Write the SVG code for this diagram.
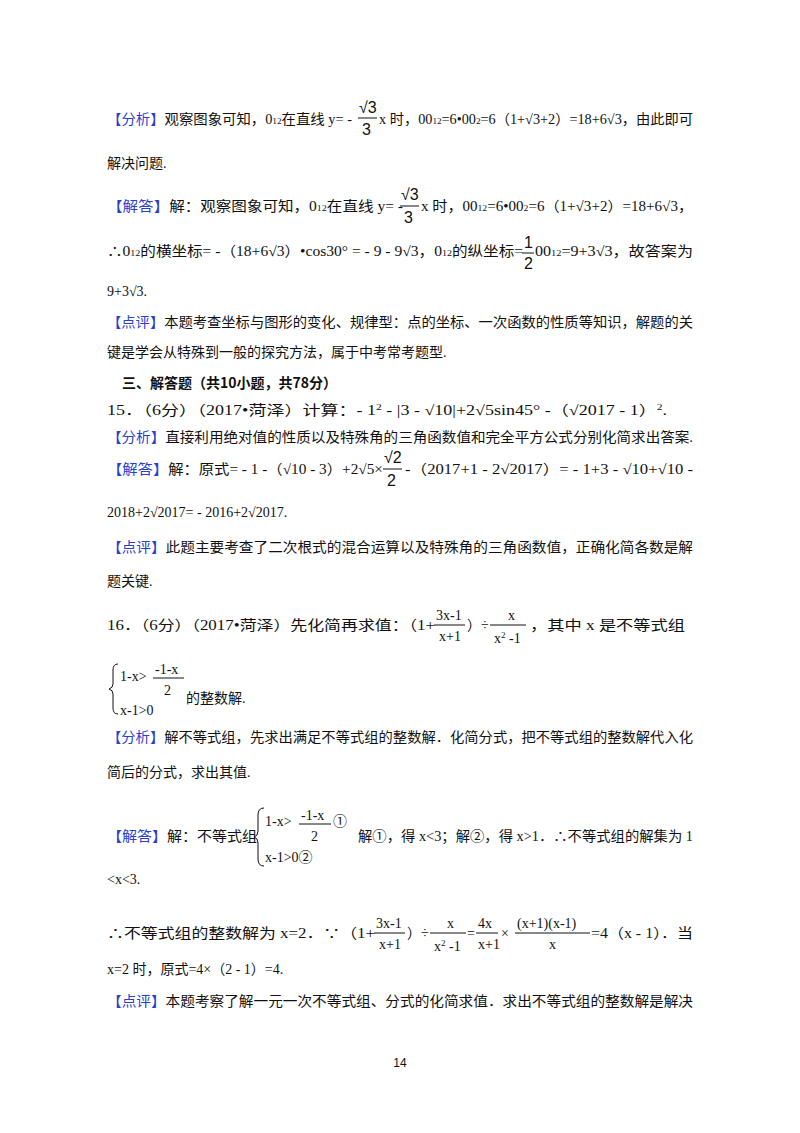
<svg xmlns="http://www.w3.org/2000/svg" width="800" height="1133" viewBox="0 0 800 1133">
<style>
text{font-family:"Liberation Serif","Noto Sans CJK SC",serif;font-size:14px;fill:#111}
.b{fill:#2a3fd0}
.m{font-family:"Liberation Sans","Noto Sans CJK SC",sans-serif;font-size:16px}
.s{font-size:9px}
.h{font-weight:bold;font-family:"Noto Sans CJK SC",serif}
line{stroke:#111;stroke-width:1}
.pg{font-family:"Liberation Sans",sans-serif;font-size:12px}
</style>
<rect width="800" height="1133" fill="#fff"/>
<g id="p1">
<text x="107" y="124" textLength="245" lengthAdjust="spacingAndGlyphs"><tspan class="b">【分析】</tspan>观察图象可知，0<tspan class="s">12</tspan>在直线 y= -</text>
<text class="m" x="359" y="113">√3</text><line x1="358" y1="118" x2="377" y2="118"/><text class="m" x="362" y="135">3</text>
<text x="379" y="124" textLength="314" lengthAdjust="spacingAndGlyphs">x 时，00<tspan class="s">12</tspan>=6•00<tspan class="s">2</tspan>=6（1+√3+2）=18+6√3，由此即可</text>
<text x="107" y="168">解决问题.</text>
<text x="107" y="211" textLength="296" lengthAdjust="spacingAndGlyphs"><tspan class="b">【解答】</tspan>解：观察图象可知，0<tspan class="s">12</tspan>在直线 y= -</text>
<text class="m" x="401" y="200">√3</text><line x1="400" y1="206" x2="419" y2="206"/><text class="m" x="404" y="223">3</text>
<text x="421" y="211" textLength="272" lengthAdjust="spacingAndGlyphs">x 时，00<tspan class="s">12</tspan>=6•00<tspan class="s">2</tspan>=6（1+√3+2）=18+6√3，</text>
<text x="107" y="256" textLength="416" lengthAdjust="spacingAndGlyphs">∴0<tspan class="s">12</tspan>的横坐标= -（18+6√3）•cos30° = - 9 - 9√3，0<tspan class="s">12</tspan>的纵坐标=</text>
<text class="m" x="524" y="248">1</text><line x1="522" y1="253" x2="534" y2="253"/><text class="m" x="524" y="269">2</text>
<text x="535" y="256" textLength="158" lengthAdjust="spacingAndGlyphs">00<tspan class="s">12</tspan>=9+3√3，故答案为</text>
<text x="107" y="296">9+3√3.</text>
<text x="107" y="327" textLength="586" lengthAdjust="spacingAndGlyphs"><tspan class="b">【点评】</tspan>本题考查坐标与图形的变化、规律型：点的坐标、一次函数的性质等知识，解题的关</text>
<text x="107" y="357">键是学会从特殊到一般的探究方法，属于中考常考题型.</text>
</g>
<g id="p2">
<text class="h" x="122" y="388">三、解答题（共10小题，共78分）</text>
<text x="107" y="415" textLength="560" lengthAdjust="spacingAndGlyphs">15．（6分）（2017•菏泽）计算：- 1<tspan class="s" dy="-5">2</tspan><tspan dy="5"> - |3 - √10|+2√5sin45° -（√2017 - 1）</tspan><tspan class="s" dy="-5">2</tspan><tspan dy="5">.</tspan></text>
<text x="107" y="442" textLength="586" lengthAdjust="spacingAndGlyphs"><tspan class="b">【分析】</tspan>直接利用绝对值的性质以及特殊角的三角函数值和完全平方公式分别化简求出答案.</text>
<text x="107" y="474" textLength="276" lengthAdjust="spacingAndGlyphs"><tspan class="b">【解答】</tspan>解：原式= - 1 -（√10 - 3）+2√5×</text>
<text class="m" x="384" y="463">√2</text><line x1="383" y1="469" x2="402" y2="469"/><text class="m" x="387" y="486">2</text>
<text x="405" y="474" textLength="288" lengthAdjust="spacingAndGlyphs">-（2017+1 - 2√2017）= - 1+3 - √10+√10 -</text>
<text x="107" y="517">2018+2√2017= - 2016+2√2017.</text>
<text x="107" y="552" textLength="586" lengthAdjust="spacingAndGlyphs"><tspan class="b">【点评】</tspan>此题主要考查了二次根式的混合运算以及特殊角的三角函数值，正确化简各数是解</text>
<text x="107" y="586">题关键.</text>
</g>
<g id="p3">
<text x="107" y="630" textLength="328" lengthAdjust="spacingAndGlyphs">16．（6分）（2017•菏泽）先化简再求值：（1+</text>
<text x="436" y="620">3x-1</text><line x1="434" y1="625" x2="465" y2="625"/><text x="439" y="641">x+1</text>
<text x="467" y="630">）÷</text>
<text x="508" y="620">x</text><line x1="490" y1="625" x2="526" y2="625"/><text x="494" y="643">x<tspan class="s" dy="-5">2</tspan><tspan dy="5"> -1</tspan></text>
<text x="530" y="630" textLength="155" lengthAdjust="spacingAndGlyphs">，其中 x 是不等式组</text>
<path d="M118,664 q-5,0 -5,6 v14 q0,4 -4,5 q4,1 4,5 v14 q0,6 5,6" fill="none" stroke="#111"/>
<text x="120" y="681">1-x&gt;</text>
<text x="155" y="674">-1-x</text><line x1="153" y1="678" x2="184" y2="678"/><text x="164" y="695">2</text>
<text x="120" y="715">x-1&gt;0</text>
<text x="186" y="703">的整数解.</text>
<text x="107" y="742" textLength="586" lengthAdjust="spacingAndGlyphs"><tspan class="b">【分析】</tspan>解不等式组，先求出满足不等式组的整数解．化简分式，把不等式组的整数解代入化</text>
<text x="107" y="777">简后的分式，求出其值.</text>
<text x="107" y="841" textLength="150" lengthAdjust="spacingAndGlyphs"><tspan class="b">【解答】</tspan>解：不等式组</text>
<path d="M264,808 q-6,0 -6,7 v16 q0,5 -4,6 q4,1 4,6 v16 q0,7 6,7" fill="none" stroke="#111"/>
<text x="265" y="826">1-x&gt;</text>
<text x="301" y="820">-1-x</text><line x1="299" y1="824" x2="331" y2="824"/><text x="311" y="841">2</text><text x="333" y="826">①</text>
<text x="265" y="862">x-1&gt;0②</text>
<text x="358" y="841" textLength="335" lengthAdjust="spacingAndGlyphs">解①，得 x&lt;3；解②，得 x&gt;1．∴不等式组的解集为 1</text>
<text x="107" y="884">&lt;x&lt;3.</text>
<text x="107" y="938" textLength="268" lengthAdjust="spacingAndGlyphs">∴不等式组的整数解为 x=2．∵（1+</text>
<text x="376" y="928">3x-1</text><line x1="374" y1="933" x2="405" y2="933"/><text x="379" y="949">x+1</text>
<text x="407" y="938">）÷</text>
<text x="447" y="928">x</text><line x1="430" y1="933" x2="466" y2="933"/><text x="434" y="951">x<tspan class="s" dy="-5">2</tspan><tspan dy="5"> -1</tspan></text>
<text x="467" y="938">=</text>
<text x="478" y="928">4x</text><line x1="476" y1="933" x2="498" y2="933"/><text x="478" y="949">x+1</text>
<text x="501" y="938">×</text>
<text x="517" y="928">(x+1)(x-1)</text><line x1="515" y1="933" x2="590" y2="933"/><text x="549" y="949">x</text>
<text x="591" y="938" textLength="102" lengthAdjust="spacingAndGlyphs">=4（x - 1）．当</text>
<text x="107" y="974">x=2 时，原式=4×（2 - 1）=4.</text>
<text x="107" y="1006" textLength="586" lengthAdjust="spacingAndGlyphs"><tspan class="b">【点评】</tspan>本题考察了解一元一次不等式组、分式的化简求值．求出不等式组的整数解是解决</text>
<text class="pg" x="400" y="1067" text-anchor="middle">14</text>
</g>
</svg>
